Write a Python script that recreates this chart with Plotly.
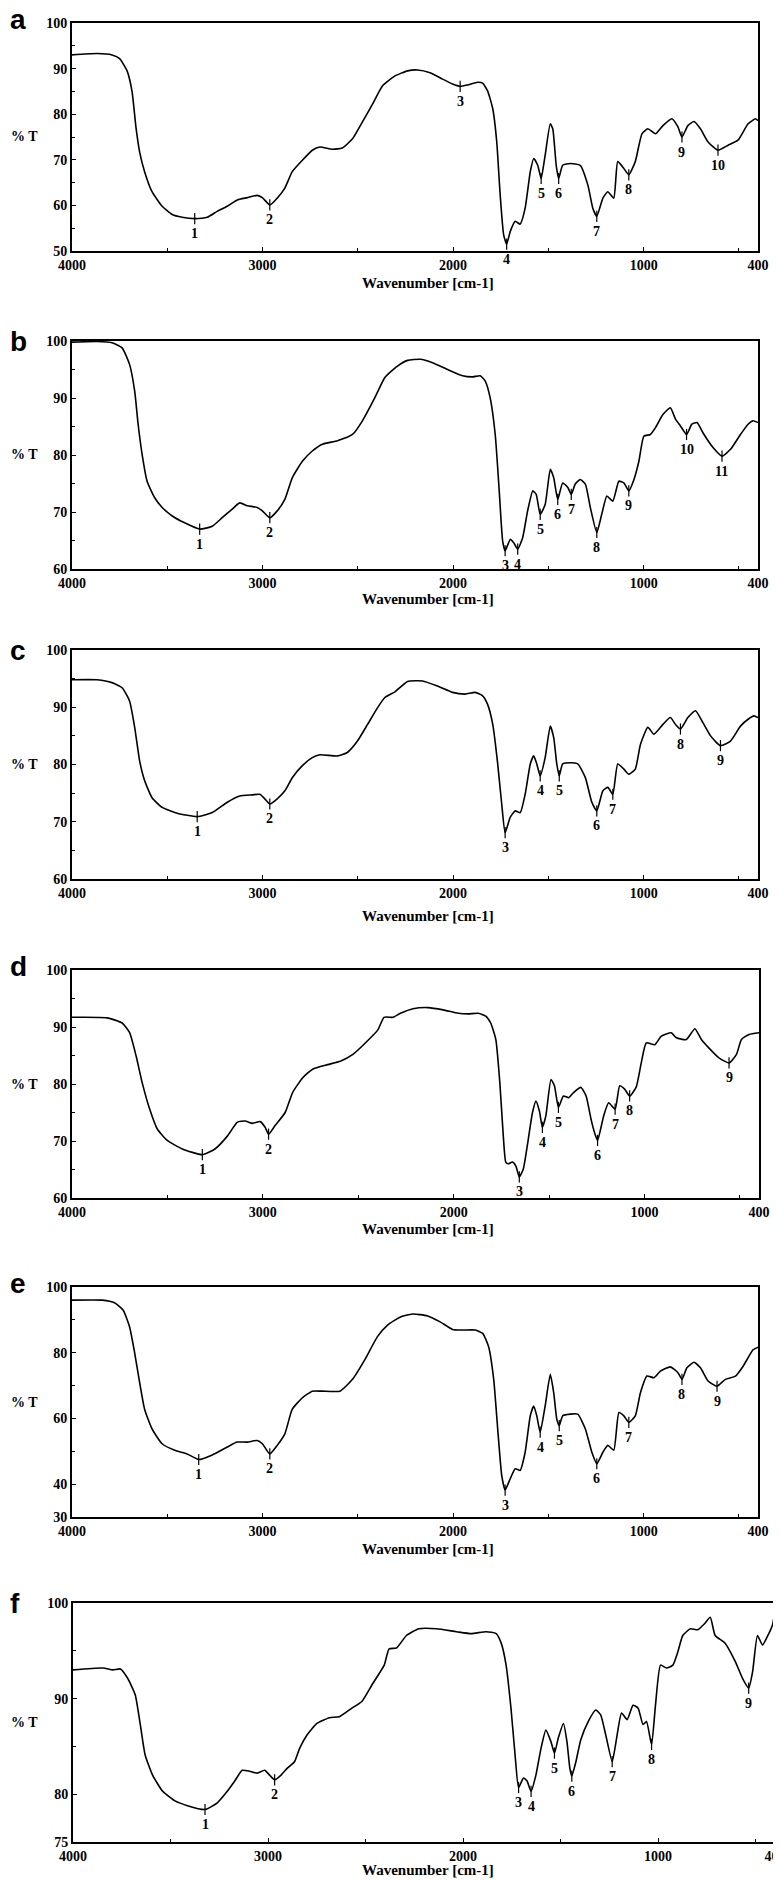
import plotly.graph_objects as go

# ---------------- data (wavenumber cm-1, %T) ----------------
wn_a = [4000,3869,3790,3750,3711,3685,3664,3645,3619,3580,3527,3474,3422,3356,3290,3238,3185,3133,3080,3028,
        3001,2962,2923,2883,2844,2791,2739,2699,2633,2581,2528,2476,2423,2371,2305,2239,2187,2121,2055,2003,
        1963,1924,1871,1845,1819,1792,1771,1753,1735,1719,1700,1674,1648,1622,1595,1577,1556,1538,1517,1490,
        1477,1459,1446,1425,1385,1333,1293,1267,1246,1214,1188,1157,1136,1104,1078,1044,1009,978,938,899,
        852,820,799,768,736,702,662,610,557,505,452,413,400]
t_a = [93.0,93.3,93.0,92.2,89.5,85.0,77.0,71.7,67.4,63.0,59.8,58.0,57.4,57.1,57.4,58.7,59.8,61.2,61.7,62.2,
       61.7,60.1,61.6,63.8,67.4,69.9,72.1,72.8,72.3,72.6,74.6,78.3,82.2,86.2,88.4,89.5,89.7,89.1,87.7,86.6,
       86.1,86.4,87.0,86.8,85.1,81.2,73.9,62.3,53.6,51.5,54.3,56.5,55.9,59.4,67.4,70.3,68.8,65.9,71.0,77.9,
       76.8,68.8,65.9,68.8,69.2,68.8,64.5,59.4,57.6,61.6,63.0,61.6,69.6,68.1,66.7,69.6,75.7,76.8,75.7,77.5,
       79.0,77.2,75.0,77.5,78.4,76.8,73.9,72.1,73.2,74.3,77.9,79.0,78.6]
peak_wn_a = [3356,2962,1963,1719,1538,1446,1246,1078,799,610]
peak_t_a = [57.1,60.1,86.1,51.5,65.9,65.9,57.6,66.7,75.0,72.1]

wn_b = [4000,3869,3790,3737,3698,3671,3653,3632,3606,3566,3527,3474,3409,3330,3264,3212,3159,3120,3080,3028,
        3001,2962,2923,2883,2844,2791,2739,2686,2607,2528,2476,2410,2358,2292,2239,2173,2108,2029,1950,1898,
        1858,1832,1806,1779,1758,1740,1727,1700,1682,1661,1635,1609,1582,1564,1543,1517,1490,1472,1451,1425,
        1398,1380,1359,1333,1306,1280,1246,1220,1193,1162,1130,1104,1078,1051,1025,999,965,938,899,860,
        833,807,775,747,720,689,636,589,544,492,452,426,400]
t_b = [99.8,99.9,99.7,98.8,95.9,91.2,85.4,80.1,75.4,72.5,70.8,69.3,68.1,67.0,67.5,69.0,70.5,71.6,71.1,70.8,
       70.2,69.0,70.2,72.2,76.0,78.9,80.7,81.9,82.5,83.6,86.0,90.1,93.6,95.6,96.6,96.8,96.2,95.0,93.9,93.7,
       93.9,93.0,90.1,83.6,73.7,64.9,63.2,65.2,64.6,63.5,65.5,70.2,73.7,73.1,69.6,71.3,77.5,76.0,72.2,75.1,
       74.3,73.1,74.9,75.7,74.9,70.8,66.4,69.6,72.8,71.9,75.4,75.1,73.7,75.7,78.9,83.3,83.6,84.8,87.1,88.3,
       86.3,85.1,83.6,85.4,85.7,83.9,81.3,79.8,81.0,83.6,85.4,86.0,85.7]
peak_wn_b = [3330,2962,1727,1661,1543,1451,1380,1246,1078,775,589]
peak_t_b = [67.0,69.0,63.2,63.5,69.6,72.2,73.1,66.4,73.7,83.6,79.8]

wn_c = [4000,3869,3790,3737,3698,3671,3645,3619,3580,3527,3448,3343,3264,3185,3120,3054,3014,2988,2962,2923,
        2883,2844,2791,2739,2699,2607,2555,2502,2449,2397,2358,2305,2239,2160,2082,2003,1937,1884,1845,1819,
        1792,1766,1745,1727,1700,1674,1648,1622,1595,1577,1561,1543,1517,1490,1472,1456,1443,1425,1385,1346,
        1306,1272,1246,1214,1188,1162,1136,1104,1078,1044,1017,978,946,899,860,833,807,768,728,689,
        649,597,544,492,452,421,400]
t_c = [94.8,94.8,94.3,93.4,91.1,86.5,80.6,77.2,74.2,72.5,71.5,70.9,71.6,73.4,74.5,74.7,74.8,74.0,73.1,74.0,
       75.4,77.7,79.8,81.2,81.7,81.5,82.1,84.1,87.0,89.9,91.7,92.7,94.5,94.6,93.7,92.6,92.3,92.6,92.0,90.5,
       87.0,80.1,73.1,68.1,70.8,71.9,71.6,74.8,80.1,81.5,80.1,78.0,81.2,86.7,84.7,80.1,78.0,80.1,80.3,80.1,
       77.7,73.4,71.9,75.4,76.0,74.8,80.1,79.2,78.3,79.2,83.5,86.5,85.3,87.0,88.2,87.0,86.2,88.2,89.4,87.3,
       85.0,83.3,84.1,86.7,87.9,88.5,88.2]
peak_wn_c = [3343,2962,1727,1543,1443,1246,1162,807,597]
peak_t_c = [70.9,73.1,68.1,78.0,78.0,71.9,74.8,86.2,83.3]

wn_d = [4000,3816,3737,3698,3664,3632,3593,3553,3501,3422,3317,3251,3185,3133,3093,3054,3014,2988,2970,2936,
        2883,2844,2791,2739,2660,2594,2528,2463,2397,2365,2318,2279,2213,2134,2055,1976,1924,1871,1832,1806,
        1779,1758,1740,1727,1714,1692,1674,1656,1635,1609,1587,1569,1551,1535,1517,1490,1472,1451,1425,1398,
        1372,1333,1306,1280,1262,1246,1214,1188,1154,1130,1104,1078,1044,1017,991,946,912,860,833,781,
        736,702,662,610,557,518,492,452,400]
t_d = [91.7,91.6,90.7,89.0,84.9,80.2,75.6,72.1,70.1,68.6,67.6,68.6,70.9,73.3,73.5,73.1,73.4,72.4,71.2,72.7,
       75.0,78.5,81.1,82.6,83.4,84.0,85.2,87.2,89.5,91.7,91.7,92.4,93.2,93.4,93.0,92.4,92.3,92.4,91.9,90.7,
       87.8,80.2,70.9,66.3,66.0,66.3,65.6,63.7,65.1,70.3,75.0,77.0,75.3,72.4,74.4,80.8,79.7,75.9,77.9,77.6,
       78.5,79.4,77.9,73.8,71.5,70.1,74.4,76.7,75.6,79.7,79.1,77.9,79.4,83.7,87.2,86.9,88.4,89.0,88.1,87.8,
       89.7,87.8,86.3,84.6,83.7,85.2,87.8,88.7,89.0]
peak_wn_d = [3317,2970,1656,1535,1451,1246,1154,1078,557]
peak_t_d = [67.6,71.2,63.7,72.4,75.9,70.1,75.6,77.9,83.7]

wn_e = [4000,3842,3777,3732,3698,3671,3645,3619,3580,3527,3461,3396,3335,3264,3185,3133,3080,3028,3001,2962,
        2923,2883,2844,2791,2739,2686,2594,2528,2463,2397,2344,2279,2213,2134,2068,2003,1950,1884,1845,1814,
        1787,1766,1745,1727,1700,1674,1648,1622,1595,1577,1561,1543,1517,1490,1472,1456,1443,1425,1385,1346,
        1306,1272,1246,1214,1188,1157,1130,1104,1078,1044,1017,983,946,912,860,820,799,773,736,702,
        662,615,571,518,478,426,400]
t_e = [96.0,96.0,95.2,93.0,87.9,79.9,70.9,62.8,56.8,52.3,50.3,49.2,47.5,48.9,51.3,52.8,52.8,53.3,52.3,49.2,
       51.8,55.3,62.8,66.3,68.3,68.3,68.3,71.9,77.9,84.9,88.4,90.8,91.8,91.2,89.4,87.1,86.9,86.9,85.9,81.9,
       71.9,56.8,42.7,38.2,41.7,44.7,44.2,49.7,60.8,63.8,60.8,55.8,63.8,73.4,67.8,59.8,57.8,60.8,61.3,61.3,
       56.8,49.7,46.2,49.7,51.8,50.3,61.8,60.8,58.8,60.8,67.8,72.9,72.4,74.4,75.7,73.9,71.9,75.4,77.1,75.4,
       71.4,69.8,71.9,72.9,75.9,80.9,81.7]
peak_wn_e = [3335,2962,1727,1543,1443,1246,1078,799,615]
peak_t_e = [47.5,49.2,38.2,55.8,57.8,46.2,58.8,71.9,69.8]

wn_f = [4000,3847,3796,3757,3719,3681,3655,3630,3592,3540,3477,3413,3323,3260,3209,3170,3132,3094,3055,3017,
        2992,2966,2933,2902,2864,2838,2800,2749,2685,2634,2570,2519,2468,2404,2379,2341,2290,2226,2136,2034,
        1958,1881,1830,1804,1779,1754,1733,1715,1690,1672,1651,1626,1600,1575,1549,1531,1511,1485,1467,1452,
        1442,1421,1396,1358,1319,1294,1268,1235,1212,1187,1158,1128,1102,1077,1059,1033,1013,987,957,924,
        898,873,834,796,763,732,707,656,604,566,535,515,490,464,439,413,400]
t_f = [93.0,93.2,93.0,93.1,92.1,90.4,87.3,84.1,82.0,80.3,79.3,78.8,78.4,79.1,80.3,81.4,82.5,82.4,82.2,82.5,
       82.0,81.5,82.0,82.7,83.4,84.8,86.2,87.4,88.0,88.1,89.0,89.7,91.4,93.5,95.2,95.3,96.6,97.3,97.3,97.0,
       96.8,97.0,96.8,95.8,93.5,89.0,84.1,80.7,81.7,81.4,80.3,82.0,84.8,86.7,85.5,84.3,85.9,87.4,85.5,82.7,
       81.9,83.4,85.7,87.6,88.8,88.3,86.2,83.4,85.9,88.5,87.8,89.3,89.0,87.3,87.6,85.2,89.3,93.5,93.2,93.5,
       94.9,96.6,97.3,97.2,97.8,98.5,96.6,95.8,93.9,92.1,91.1,92.8,96.6,95.6,96.5,97.7,99.2]
peak_wn_f = [3323,2966,1715,1651,1531,1442,1235,1033,535]
peak_t_f = [78.4,81.5,80.7,80.3,84.3,81.9,83.4,85.2,91.1]

panel_letters = ["a", "b", "c", "d", "e", "f"]
x_tick_vals = [4000, 3000, 2000, 1000, 400]
x_minor_vals = [3500, 2500, 1500, 500]
y_ranges = [(50, 100), (60, 100), (60, 100), (60, 100), (30, 100), (75, 100)]
y_tick_vals = [[50, 60, 70, 80, 90, 100], [60, 70, 80, 90, 100], [60, 70, 80, 90, 100],
               [60, 70, 80, 90, 100], [30, 40, 60, 80, 100], [75, 80, 90, 100]]
y_minor_vals = [[55, 65, 75, 85, 95], [65, 75, 85, 95], [65, 75, 85, 95],
                [65, 75, 85, 95], [50, 70, 90], [85, 95]]
x_title = "Wavenumber [cm-1]"
y_title = "% T"

series = [(wn_a, t_a, peak_wn_a, peak_t_a), (wn_b, t_b, peak_wn_b, peak_t_b),
          (wn_c, t_c, peak_wn_c, peak_t_c), (wn_d, t_d, peak_wn_d, peak_t_d),
          (wn_e, t_e, peak_wn_e, peak_t_e), (wn_f, t_f, peak_wn_f, peak_t_f)]

# ---------------- layout geometry (pixels) ----------------
W, H = 781, 1881
# (top, bottom, left, right)
boxes = [(15, 243, 64, 750), (333, 561, 64, 750), (642, 871, 64, 750),
         (962, 1190, 64, 751), (1279, 1509, 64, 750), (1595, 1834, 65, 767)]
title_y = [275, 591, 908, 1221, 1541, 1862]
letter_y = [12, 333, 643, 958, 1275, 1595]

SERIF = "Liberation Serif"
SANS = "Liberation Sans"

fig = go.Figure()
layout = dict(width=W, height=H, margin=dict(l=0, r=0, t=0, b=0),
              paper_bgcolor="white", plot_bgcolor="white", showlegend=False,
              template="none")
annotations = []

for i, ((wn, t, pwn, pt), (top, bot, left, right)) in enumerate(zip(series, boxes)):
    n = "" if i == 0 else str(i + 1)
    xa, ya = "x" + n, "y" + n
    fig.add_trace(go.Scatter(x=wn, y=t, mode="lines", xaxis=xa, yaxis=ya,
                             line=dict(color="black", width=1.6, shape="spline", smoothing=0.5),
                             hoverinfo="skip"))
    fig.add_trace(go.Scatter(x=pwn, y=pt, mode="markers", xaxis=xa, yaxis=ya,
                             marker=dict(symbol="line-ns", size=8, color="black",
                                         line=dict(color="black", width=1.2)),
                             hoverinfo="skip"))
    for k, (px, py) in enumerate(zip(pwn, pt)):
        annotations.append(dict(x=px, y=py, xref=xa, yref=ya, text=str(k + 1), showarrow=False,
                                yshift=-15, font=dict(family=SERIF, size=14, color="black", weight="bold")))
    axis_common = dict(showline=True, linecolor="black", linewidth=2, mirror=True,
                       showgrid=False, zeroline=False, ticks="inside", ticklen=4, tickwidth=1.2,
                       tickcolor="black", automargin=False,
                       tickfont=dict(family=SERIF, size=14, color="black", weight="bold"))
    layout["xaxis" + n] = dict(axis_common, domain=[left / W, right / W], range=[4000, 400],
                               anchor=ya, tickmode="array", tickvals=x_tick_vals,
                               ticktext=[str(v) for v in x_tick_vals],
                               minor=dict(tickvals=x_minor_vals, ticks="inside", ticklen=3,
                                          tickcolor="black"))
    y0, y1 = y_ranges[i]
    layout["yaxis" + n] = dict(axis_common, domain=[1 - bot / H, 1 - top / H], range=[y0, y1],
                               anchor=xa, tickmode="array", tickvals=y_tick_vals[i],
                               ticktext=[str(v) for v in y_tick_vals[i]],
                               minor=dict(tickvals=y_minor_vals[i], ticks="inside", ticklen=3,
                                          tickcolor="black"))
    # axis titles and panel letters
    annotations.append(dict(x=420 / W, y=1 - title_y[i] / H, xref="paper", yref="paper",
                            text=x_title, showarrow=False, xanchor="center", yanchor="middle",
                            font=dict(family=SERIF, size=15, color="black", weight="bold")))
    annotations.append(dict(x=16 / W, y=1 - ((top + bot) / 2) / H, xref="paper", yref="paper",
                            text=y_title, showarrow=False, xanchor="center", yanchor="middle",
                            font=dict(family=SERIF, size=14, color="black", weight="bold")))
    annotations.append(dict(x=0, y=1 - letter_y[i] / H, xref="paper", yref="paper",
                            text=panel_letters[i], showarrow=False, xanchor="left", yanchor="middle",
                            font=dict(family=SANS, size=28, color="black", weight="bold")))

layout["annotations"] = annotations
fig.update_layout(**layout)
fig.write_html("out.html")
